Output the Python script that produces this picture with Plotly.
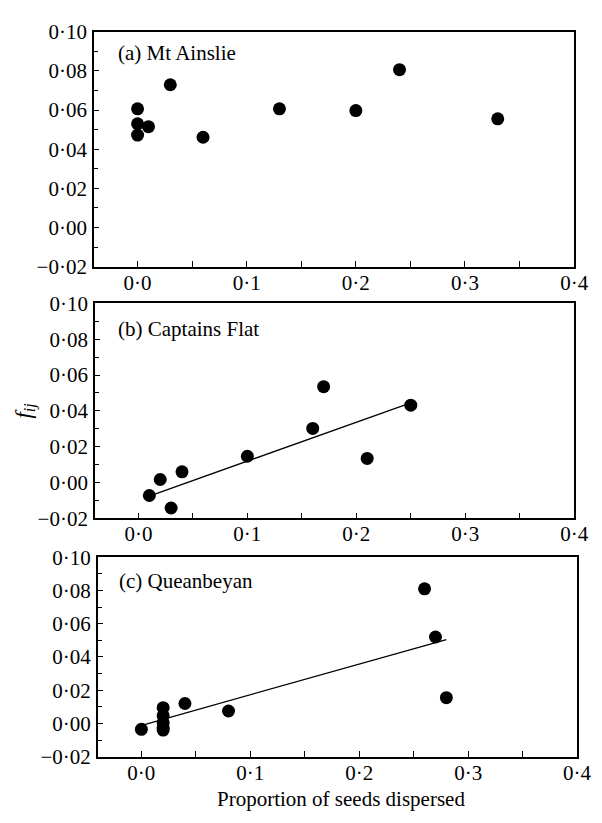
import plotly.graph_objects as go

# ---- data ----
a_x = [0.0, 0.0, 0.0, 0.01, 0.03, 0.06, 0.13, 0.20, 0.24, 0.33]
a_y = [0.0606, 0.053, 0.0472, 0.0515, 0.0729, 0.0461, 0.0606, 0.0597, 0.0806, 0.0555]

b_x = [0.01, 0.02, 0.03, 0.04, 0.10, 0.16, 0.17, 0.21, 0.25]
b_y = [-0.0072, 0.0017, -0.0142, 0.006, 0.0147, 0.0302, 0.0535, 0.0135, 0.0432]
b_fit_x = [0.01, 0.25]
b_fit_y = [-0.0075, 0.0445]

c_x = [0.0, 0.02, 0.02, 0.02, 0.02, 0.02, 0.04, 0.08, 0.26, 0.27, 0.28]
c_y = [-0.0035, 0.0095, 0.0047, 0.0005, -0.0025, -0.004, 0.012, 0.0075, 0.081, 0.052, 0.0155]
c_fit_x = [0.002, 0.28]
c_fit_y = [-0.0008, 0.0505]

panel_labels = ["(a) Mt Ainslie", "(b) Captains Flat", "(c) Queanbeyan"]

x_tickvals = [0.0, 0.1, 0.2, 0.3, 0.4]
x_ticktext = ["0·0", "0·1", "0·2", "0·3", "0·4"]
y_tickvals = [-0.02, 0.0, 0.02, 0.04, 0.06, 0.08, 0.10]
y_ticktext = ["\u22120·02", "0·00", "0·02", "0·04", "0·06", "0·08", "0·10"]

x_title = "Proportion of seeds dispersed"
y_title = "<i>f</i><sub><i>ij</i></sub>"

# ---- layout geometry (screen px; page body has an 8px margin) ----
OFF = 8
W, H = 602 - 2 * OFF, 823 - 2 * OFF
FONT = "Liberation Serif, Times New Roman, serif"
FS = 21

def px_x(v):
    return (v - OFF) / W

def px_y(v):
    return 1 - (v - OFF) / H

panels = [
    dict(xd=[px_x(96), px_x(588)], yd=[px_y(262.3), px_y(20)]),
    dict(xd=[px_x(97), px_x(588)], yd=[px_y(521.7), px_y(300)]),
    dict(xd=[px_x(100), px_x(591)], yd=[px_y(767.3), px_y(561.7)]),
]

fig = go.Figure()

series = [(a_x, a_y, None, None), (b_x, b_y, b_fit_x, b_fit_y), (c_x, c_y, c_fit_x, c_fit_y)]
for i, (sx, sy, fx, fy) in enumerate(series):
    xa = "x" if i == 0 else f"x{i+1}"
    ya = "y" if i == 0 else f"y{i+1}"
    if fx is not None:
        fig.add_trace(go.Scatter(x=fx, y=fy, mode="lines", xaxis=xa, yaxis=ya,
                                 line=dict(color="black", width=1.3), showlegend=False,
                                 hoverinfo="skip"))
    fig.add_trace(go.Scatter(x=sx, y=sy, mode="markers", xaxis=xa, yaxis=ya,
                             marker=dict(color="black", size=13, line=dict(width=0)),
                             showlegend=False))

layout = dict(
    width=W, height=H, autosize=False,
    margin=dict(l=0, r=0, t=0, b=0),
    paper_bgcolor="white", plot_bgcolor="white",
    font=dict(family=FONT, size=FS, color="black"),
    showlegend=False,
)

for i, p in enumerate(panels):
    xk = "xaxis" if i == 0 else f"xaxis{i+1}"
    yk = "yaxis" if i == 0 else f"yaxis{i+1}"
    anchor_y = "y" if i == 0 else f"y{i+1}"
    anchor_x = "x" if i == 0 else f"x{i+1}"
    layout[xk] = dict(
        domain=p["xd"], anchor=anchor_y, range=[-0.04, 0.4],
        tickmode="array", tickvals=x_tickvals, ticktext=x_ticktext,
        ticks="inside", ticklen=6, tickwidth=1.2, tickcolor="black",
        minor=dict(tickmode="linear", tick0=0, dtick=0.05, ticks="inside",
                   ticklen=6, tickwidth=1.2, tickcolor="black"),
        showline=True, linecolor="black", linewidth=1.5, mirror=True,
        showgrid=False, zeroline=False, fixedrange=True,
        tickfont=dict(family=FONT, size=FS, color="black"),
        ticklabelstandoff=-4, ticklabeloverflow="allow",
    )
    layout[yk] = dict(
        domain=p["yd"], anchor=anchor_x, range=[-0.02, 0.10],
        tickmode="array", tickvals=y_tickvals, ticktext=y_ticktext,
        ticks="inside", ticklen=5, tickwidth=1.2, tickcolor="black",
        minor=dict(tickmode="linear", tick0=0, dtick=0.01, ticks="inside",
                   ticklen=4, tickwidth=1.2, tickcolor="black"),
        showline=True, linecolor="black", linewidth=1.5, mirror=True,
        showgrid=False, zeroline=False, fixedrange=True,
        tickfont=dict(family=FONT, size=FS, color="black"),
        ticklabelstandoff=1, ticklabeloverflow="allow",
    )

annotations = []
label_pos = [(119, 42.5), (118.5, 326.5), (119.5, 586.5)]
for txt, (lx, ly) in zip(panel_labels, label_pos):
    annotations.append(dict(text=txt, x=px_x(lx), y=px_y(ly), xref="paper", yref="paper",
                            xanchor="left", yanchor="middle", showarrow=False,
                            font=dict(family=FONT, size=FS, color="black")))
annotations.append(dict(text=x_title, x=px_x(349), y=px_y(811), xref="paper", yref="paper",
                        xanchor="center", yanchor="middle", showarrow=False,
                        font=dict(family=FONT, size=FS, color="black")))
annotations.append(dict(text=y_title, x=px_x(25), y=px_y(411), xref="paper", yref="paper",
                        xanchor="center", yanchor="middle", showarrow=False, textangle=-90,
                        font=dict(family=FONT, size=23, color="black")))
layout["annotations"] = annotations

fig.update_layout(**layout)
fig.write_html("out.html", config={"displayModeBar": False})
